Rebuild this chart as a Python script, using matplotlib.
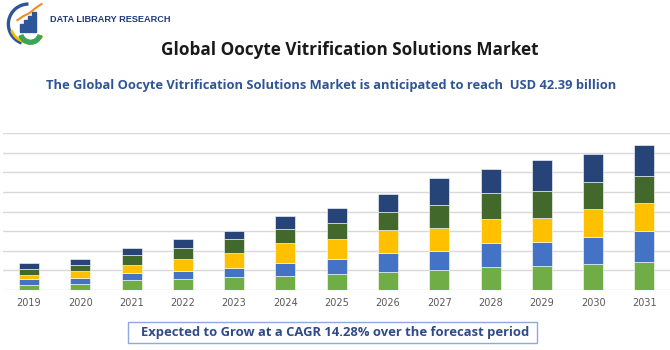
import numpy as np
import matplotlib.pyplot as plt
from matplotlib.patches import Rectangle, Arc, Wedge

years = ["2019", "2020", "2021", "2022", "2023", "2024", "2025",
         "2026", "2027", "2028", "2029", "2030", "2031"]
seg_green = [0.26, 0.31, 0.51, 0.56, 0.67, 0.70, 0.80, 0.89, 1.01, 1.18, 1.21, 1.30, 1.42]
seg_blue = [0.27, 0.27, 0.34, 0.40, 0.42, 0.68, 0.79, 0.97, 0.99, 1.19, 1.21, 1.40, 1.58]
seg_yellow = [0.22, 0.39, 0.41, 0.63, 0.80, 0.99, 1.00, 1.19, 1.14, 1.23, 1.27, 1.41, 1.44]
seg_dkgreen = [0.31, 0.31, 0.50, 0.54, 0.69, 0.74, 0.82, 0.93, 1.18, 1.37, 1.36, 1.42, 1.38]
seg_navy = [0.29, 0.27, 0.36, 0.46, 0.42, 0.64, 0.77, 0.93, 1.41, 1.19, 1.57, 1.42, 1.59]

series = [seg_green, seg_blue, seg_yellow, seg_dkgreen, seg_navy]
colors = ["#70AD47", "#4472C4", "#FFC000", "#43682B", "#264478"]

fig = plt.figure(figsize=(6.7, 3.5), dpi=100)

ax = fig.add_axes([0.005, 0.172, 0.995, 0.447])
x = np.arange(len(years))
bottom = np.zeros(len(years))
for vals, c in zip(series, colors):
    ax.bar(x, vals, width=0.39, bottom=bottom, color=c, edgecolor="white", linewidth=0.4, zorder=3)
    bottom += np.array(vals)

ax.set_xlim(-0.5, 12.5)
ax.set_ylim(0, 8)
ax.set_yticks(np.arange(0, 9, 1))
ax.yaxis.grid(True, color="#D9D9D9", linewidth=1.0, zorder=0)
ax.tick_params(axis="y", left=False, labelleft=False)
ax.set_xticks(x)
ax.set_xticklabels(years, fontsize=7, color="#595959")
ax.tick_params(axis="x", length=0, pad=6)
for s in ax.spines.values():
    s.set_visible(False)

# titles
fig.text(0.522, 0.857, "Global Oocyte Vitrification Solutions Market", ha="center", va="center",
         fontsize=12.3, fontweight="bold", color="#1A1A1A", family="Open Sans")
fig.text(0.494, 0.757, "The Global Oocyte Vitrification Solutions Market is anticipated to reach  USD 42.39 billion",
         ha="center", va="center", fontsize=9.3, fontweight="bold", color="#2E5597", family="Open Sans")

# bottom box
fig.patches.append(Rectangle((0.191, 0.020), 0.610, 0.060, transform=fig.transFigure,
                             facecolor="white", edgecolor="#8EA9DB", linewidth=1.0))
fig.text(0.500, 0.051, "Expected to Grow at a CAGR 14.28% over the forecast period", ha="center", va="center",
         fontsize=9.4, fontweight="bold", color="#2E4A8A", family="Open Sans")

# logo
lax = fig.add_axes([0.005, 0.865, 0.075, 0.135])
lax.set_xlim(0, 50)
lax.set_ylim(0, 45)
lax.set_aspect("equal")
lax.axis("off")
lax.add_patch(Arc((25, 22), 40, 40, theta1=90, theta2=250, color="#2E5597", linewidth=2.4))
lax.add_patch(Arc((25, 22), 36, 36, theta1=200, theta2=320, color="#F2C100", linewidth=2.0))
lax.add_patch(Wedge((27, 14), 12, 200, 340, width=4, color="#3AA655"))
for i, h in enumerate([8, 12, 16, 20]):
    lax.add_patch(Rectangle((17 + i * 4, 14), 3, h, color="#2E5597"))
lax.plot([14, 20, 26, 32, 38], [26, 30, 33, 38, 42], color="#F08A24", linewidth=1.5)
fig.text(0.075, 0.944, "DATA LIBRARY RESEARCH", ha="left", va="center", fontsize=6.6,
         fontweight="bold", color="#1F3A7A", family="Liberation Sans")

fig.savefig("out.png", dpi=100)
